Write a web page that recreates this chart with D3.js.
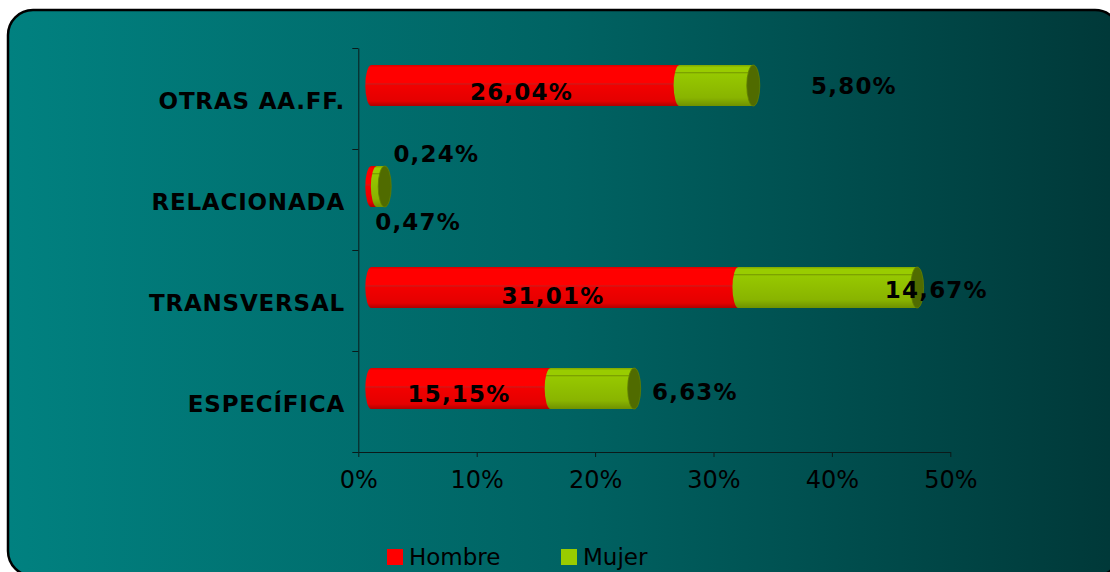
<!DOCTYPE html>
<html>
<head>
<meta charset="utf-8">
<script src="https://cdn.jsdelivr.net/npm/d3@7"></script>
<style>
  html, body { margin: 0; padding: 0; background: #ffffff; }
  svg { display: block; }
</style>
</head>
<body>
<svg id="chart" width="1110" height="572"></svg>
<script>
// ---- data ----
const categories = ["OTRAS AA.FF.", "RELACIONADA", "TRANSVERSAL", "ESPECÍFICA"];
const hombre = [26.04, 0.47, 31.01, 15.15];
const mujer = [5.80, 0.24, 14.67, 6.63];
const seriesNames = ["Hombre", "Mujer"];
const xTicks = [0, 10, 20, 30, 40, 50];

// ---- layout ----
const plot = { left: 358.3, right: 950.3, top: 48, bottom: 452 };
const depthX = 13;      // 3D offset of the bars to the right
const liftY = 13;       // 3D offset of the bars upwards
const barH = 41;
const capRx = 6;
const capShift = 5;
// value label nudges [dx, dy] relative to each segment centre
const hombreLabelNudge = [[-4, 14.5], [44, 43], [-2, 16], [-2, 13]];
const mujerLabelNudge = [[140, 8.5], [58, -25], [111, 10], [105, 11.5]];

const fmt = v => v.toFixed(2).replace(".", ",") + "%";

const svg = d3.select("#chart");
const defs = svg.append("defs");

// background gradient
const bg = defs.append("linearGradient").attr("id", "bgGrad")
  .attr("x1", 0).attr("x2", 1).attr("y1", 0).attr("y2", 0);
[["0%", "#018180"], ["50%", "#006363"], ["100%", "#003838"]]
  .forEach(([o, c]) => bg.append("stop").attr("offset", o).attr("stop-color", c));

const redGrad = defs.append("linearGradient").attr("id", "redGrad")
  .attr("x1", 0).attr("x2", 0).attr("y1", 0).attr("y2", 1);
[["0%", "#d80000"], ["6%", "#ff0000"], ["44%", "#ff0000"], ["46%", "#c02020"],
 ["49%", "#f20000"], ["88%", "#e40000"], ["100%", "#b00000"]]
  .forEach(([o, c]) => redGrad.append("stop").attr("offset", o).attr("stop-color", c));

const greenGrad = defs.append("linearGradient").attr("id", "greenGrad")
  .attr("x1", 0).attr("x2", 0).attr("y1", 0).attr("y2", 1);
[["0%", "#7fa600"], ["6%", "#99cc00"], ["16%", "#99cc00"], ["18%", "#7a9f00"],
 ["22%", "#96c800"], ["80%", "#89b400"], ["100%", "#6f9100"]]
  .forEach(([o, c]) => greenGrad.append("stop").attr("offset", o).attr("stop-color", c));

// chart area
svg.append("rect")
  .attr("x", 8).attr("y", 10).attr("width", 1112).attr("height", 566)
  .attr("rx", 25).attr("ry", 25)
  .attr("fill", "url(#bgGrad)")
  .attr("stroke", "#000").attr("stroke-width", 2.5);

// scales
const x = d3.scaleLinear().domain([0, 50]).range([plot.left, plot.right]);
const y = d3.scaleBand().domain(categories).range([plot.top, plot.bottom]);
const yEdge = d3.scaleLinear().domain([0, categories.length]).range([plot.top, plot.bottom]);

// y axis: ticks between categories
const yAxis = svg.append("g")
  .attr("transform", `translate(${plot.left},0)`)
  .call(d3.axisLeft(yEdge).ticks(categories.length).tickSize(6).tickSizeOuter(0).tickFormat(""));
yAxis.selectAll("path, line").attr("stroke", "#0a1a1a").attr("stroke-width", 1);

// x axis
const xAxis = svg.append("g")
  .attr("transform", `translate(0,${plot.bottom})`)
  .call(d3.axisBottom(x).tickValues(xTicks).tickSize(5).tickSizeOuter(0).tickFormat(d => d + "%"));
xAxis.selectAll("path, line").attr("stroke", "#0a1a1a").attr("stroke-width", 1);
xAxis.selectAll("text")
  .attr("y", 36).attr("dy", null)
  .attr("fill", "#000")
  .style("font-family", "'DejaVu Sans', sans-serif")
  .style("font-size", "24px");

// category labels
svg.append("g").selectAll("text").data(categories).join("text")
  .attr("x", 345)
  .attr("y", d => y(d) + y.bandwidth() / 2 + 10.5)
  .attr("text-anchor", "end")
  .attr("fill", "#000")
  .style("font-family", "'DejaVu Sans', sans-serif")
  .style("font-weight", "bold")
  .style("font-size", "23px")
  .style("letter-spacing", "0.8px")
  .text(d => d);

// cylinder segment silhouette
function segPath(x0, x1, top, bot) {
  const ry = (bot - top) / 2;
  return `M${x0},${top} L${x1},${top} A${capRx},${ry} 0 0 1 ${x1},${bot} ` +
         `L${x0},${bot} A${capRx},${ry} 0 0 1 ${x0},${top} Z`;
}

const rows = categories.map((c, i) => ({ c, i, h: hombre[i], m: mujer[i] }));
const barsG = svg.append("g");

rows.forEach(r => {
  const cy = y(r.c) + y.bandwidth() / 2 - liftY;
  const top = cy - barH / 2, bot = cy + barH / 2;
  const xr0 = x(0) + depthX, xr1 = x(r.h) + depthX;
  const xg1 = x(r.h + r.m) + depthX + capShift;

  barsG.append("path").attr("d", segPath(xr0, xr1, top, bot)).attr("fill", "url(#redGrad)");
  barsG.append("path").attr("d", segPath(xr1, xg1, top, bot)).attr("fill", "url(#greenGrad)");
  barsG.append("ellipse")
    .attr("cx", xg1).attr("cy", cy).attr("rx", capRx + 0.5).attr("ry", barH / 2)
    .attr("fill", "#506b00").attr("stroke", "#5f7d00").attr("stroke-width", 0.8);
});

// value labels
const labelStyle = sel => sel
  .attr("text-anchor", "middle")
  .attr("fill", "#000")
  .style("font-family", "'DejaVu Sans', sans-serif")
  .style("font-weight", "bold")
  .style("font-size", "23px")
  .style("letter-spacing", "1.2px");

const labelsG = svg.append("g");
rows.forEach(r => {
  const cy = y(r.c) + y.bandwidth() / 2 - liftY;
  const hc = (x(0) + x(r.h)) / 2 + depthX;
  const mc = (x(r.h) + x(r.h + r.m)) / 2 + depthX;
  labelsG.append("text").call(labelStyle)
    .attr("x", hc + hombreLabelNudge[r.i][0])
    .attr("y", cy + hombreLabelNudge[r.i][1])
    .text(fmt(r.h));
  labelsG.append("text").call(labelStyle)
    .attr("x", mc + mujerLabelNudge[r.i][0])
    .attr("y", cy + mujerLabelNudge[r.i][1])
    .text(fmt(r.m));
});

// legend
const legendColors = ["#ff0000", "#99cc00"];
const legendX = [387, 561];
const legend = svg.append("g");
seriesNames.forEach((name, i) => {
  legend.append("rect")
    .attr("x", legendX[i]).attr("y", 549).attr("width", 16).attr("height", 16)
    .attr("fill", legendColors[i]);
  legend.append("text")
    .attr("x", legendX[i] + 22).attr("y", 565)
    .attr("fill", "#000")
    .style("font-family", "'DejaVu Sans', sans-serif")
    .style("font-size", "23px")
    .text(name);
});
</script>
</body>
</html>
